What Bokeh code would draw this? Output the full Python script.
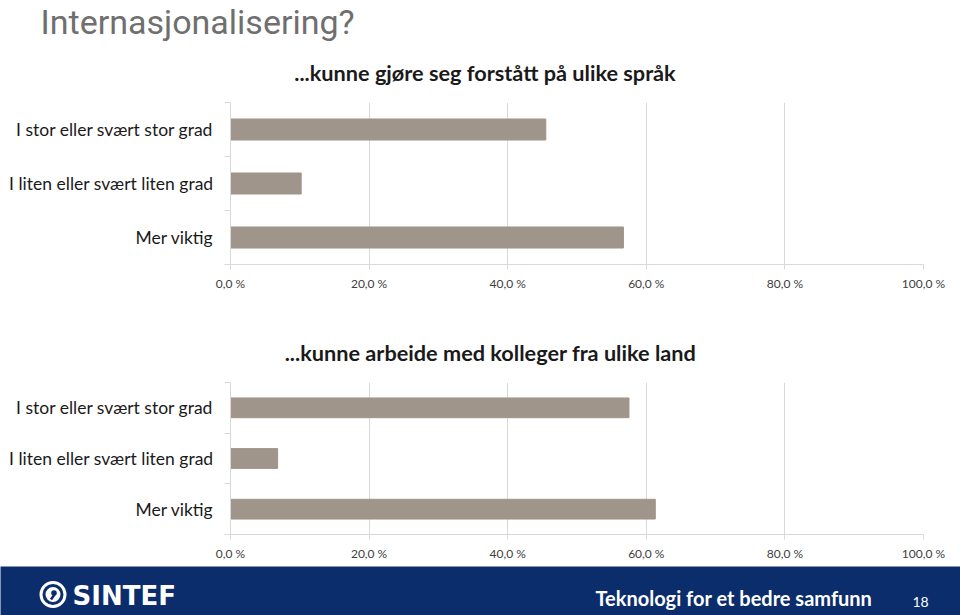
from bokeh.plotting import figure
from bokeh.layouts import column
from bokeh.models import ColumnDataSource, FixedTicker, Range1d
from bokeh.embed import file_html
from bokeh.resources import INLINE
from bokeh.core.properties import value

# ---------------- data ----------------
categories = ["I stor eller svært stor grad", "I liten eller svært liten grad", "Mer viktig"]
sprak_values = [45.5, 10.2, 56.7]   # ...kunne gjøre seg forstått på ulike språk
land_values = [57.5, 6.8, 61.3]     # ...kunne arbeide med kolleger fra ulike land
tick_values = [0, 20, 40, 60, 80, 100]
tick_labels = ["0,0 %", "20,0 %", "40,0 %", "60,0 %", "80,0 %", "100,0 %"]
chart_titles = ["...kunne gjøre seg forstått på ulike språk",
                "...kunne arbeide med kolleger fra ulike land"]
slide_title = "Internasjonalisering?"
footer_text = "Teknologi for et bedre samfunn"
page_number = "18"

BAR = "#a0958a"
GRID = "#d9d9d9"
NAVY = "#0b2d6c"
FONT = "Lato"
W = 960


def canvas(height, bg="white"):
    c = figure(width=W, height=height, x_range=Range1d(0, W), y_range=Range1d(0, height),
               output_backend="svg", toolbar_location=None, min_border=0,
               frame_align=False)
    c.axis.visible = False
    c.grid.visible = False
    c.outline_line_color = None
    c.background_fill_color = bg
    c.border_fill_color = bg
    return c


def make_chart(values, height, b_top, b_bottom):
    n = len(categories)
    ypos = [n - i - 0.5 for i in range(n)]
    src = ColumnDataSource(dict(y=ypos, right=values, cat=categories))
    p = figure(width=W, height=height, x_range=Range1d(0, 100), y_range=Range1d(0, n),
               output_backend="svg", toolbar_location=None, frame_align=False,
               min_border_left=230, min_border_right=37,
               min_border_top=b_top, min_border_bottom=b_bottom)
    p.hbar(y="y", right="right", left=0, height=0.39, source=src,
           fill_color=BAR, line_color=BAR)
    p.outline_line_color = None
    p.background_fill_color = "white"
    p.border_fill_color = "white"

    # x axis
    p.xaxis.ticker = FixedTicker(ticks=tick_values)
    p.xaxis.major_label_overrides = {t: l for t, l in zip(tick_values, tick_labels)}
    p.xaxis.axis_line_color = GRID
    p.xaxis.major_tick_line_color = GRID
    p.xaxis.major_tick_out = 5
    p.xaxis.major_tick_in = 0
    p.xaxis.minor_tick_line_color = None
    p.xaxis.major_label_text_font = FONT
    p.xaxis.major_label_text_font_size = "12px"
    p.xaxis.major_label_text_color = "#404040"
    p.xaxis.major_label_standoff = 6

    # y axis
    p.yaxis.ticker = FixedTicker(ticks=ypos, minor_ticks=list(range(n + 1)))
    p.yaxis.major_label_overrides = {y: c for y, c in zip(ypos, categories)}
    p.yaxis.axis_line_color = GRID
    p.yaxis.major_tick_line_color = None
    p.yaxis.minor_tick_line_color = GRID
    p.yaxis.minor_tick_out = 6
    p.yaxis.minor_tick_in = 0
    p.yaxis.major_label_text_font = FONT
    p.yaxis.major_label_text_font_size = "17.5px"
    p.yaxis.major_label_text_color = "#1a1a1a"
    p.yaxis.major_label_standoff = 11

    p.xgrid.ticker = FixedTicker(ticks=tick_values)
    p.xgrid.grid_line_color = GRID
    p.ygrid.grid_line_color = None
    return p


# header: slide title + first chart title
top = canvas(90)
top.text(x=[40], y=[69], text=[slide_title], text_align="left", text_baseline="alphabetic",
         text_font=value("Roboto"), text_font_size="34px",
         text_color="#6f6f6f")
top.text(x=[484.5], y=[18], text=[chart_titles[0]], text_align="center",
         text_baseline="middle", text_font=value(FONT), text_font_style="bold",
         text_font_size="21.7px", text_color="#1a1a1a")

p1 = make_chart(sprak_values, 240, 12, 66)

mid = canvas(42)
mid.text(x=[490], y=[20], text=[chart_titles[1]], text_align="center",
         text_baseline="middle", text_font=value(FONT), text_font_style="bold",
         text_font_size="21.7px", text_color="#1a1a1a")

p2 = make_chart(land_values, 194, 10, 32)

# footer
f = canvas(49, NAVY)
f.circle(x=[52.5], y=[21], radius=12, fill_color=None, line_color="white", line_width=3)
f.circle(x=[52.5], y=[21], radius=7.5, fill_color="white", line_color=None)
f.circle(x=[53.5], y=[22.5], radius=2.8, fill_color=NAVY, line_color=None)
f.segment(x0=[54], y0=[21], x1=[50.5], y1=[16], line_color=NAVY, line_width=2.5)
f.text(x=[72], y=[20], text=["SINTEF"], text_align="left", text_baseline="middle",
       text_font=value("DejaVu Sans"), text_font_style="bold", text_font_size="26px",
       text_color="white")
f.text(x=[595], y=[18], text=[footer_text], text_align="left", text_baseline="middle",
       text_font=value(FONT), text_font_style="bold", text_font_size="20px",
       text_color="white")
f.text(x=[920], y=[14], text=[page_number], text_align="center", text_baseline="middle",
       text_font=value(FONT), text_font_size="14px", text_color="white")

layout = column(top, p1, mid, p2, f, spacing=0)

open("out.html", "w").write(file_html(layout, INLINE))
